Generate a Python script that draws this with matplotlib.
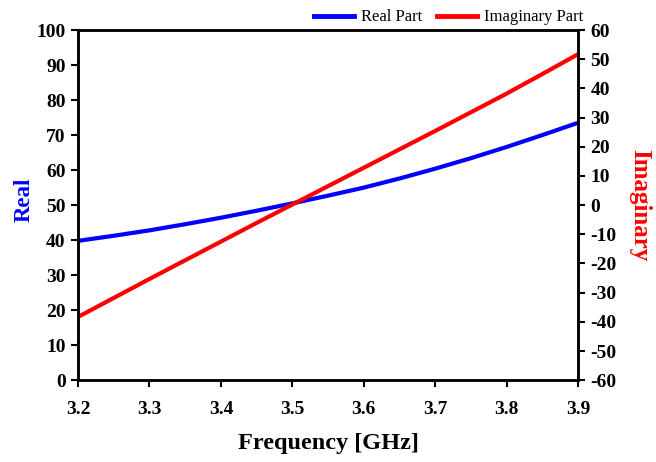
import matplotlib.pyplot as plt

# values
freq = [3.2, 3.25, 3.3, 3.35, 3.4, 3.45, 3.5, 3.55, 3.6, 3.65, 3.7, 3.75, 3.8, 3.85, 3.9]
real_part = [39.8, 41.25, 42.8, 44.55, 46.4, 48.4, 50.5, 52.7, 55.0, 57.6, 60.4, 63.4, 66.6, 70.0, 73.5]
imag_part = [-38.3, -31.8, -25.3, -18.9, -12.5, -6.1, 0.2, 6.5, 12.8, 19.1, 25.4, 31.8, 38.2, 44.9, 51.7]

x_ticks = [3.2, 3.3, 3.4, 3.5, 3.6, 3.7, 3.8, 3.9]
left_ticks = list(range(0, 101, 10))
right_ticks = list(range(-60, 61, 10))

plt.rcParams['font.family'] = ['Liberation Serif', 'DejaVu Serif']
plt.rcParams['font.weight'] = 'bold'
plt.rcParams['axes.unicode_minus'] = False

fig = plt.figure(figsize=(6.56, 4.62), dpi=100)
ax = fig.add_axes([0.119, 0.177, 0.762, 0.758])
ax2 = ax.twinx()

l1, = ax.plot(freq, real_part, color='blue', lw=3, label='Real Part')
l2, = ax2.plot(freq, imag_part, color='red', lw=3, label='Imaginary Part')

ax.set_xlim(3.2, 3.9)
ax.set_ylim(0, 100)
ax2.set_ylim(-60, 60)
ax.set_xticks(x_ticks)
ax.set_xticklabels([f'{v:.1f}' for v in x_ticks])
ax.set_yticks(left_ticks)
ax2.set_yticks(right_ticks)

for a in (ax, ax2):
    for s in a.spines.values():
        s.set_linewidth(1.8)
    a.tick_params(direction='out', length=5, width=1.5, labelsize=14, pad=4)
    for lab in a.get_xticklabels() + a.get_yticklabels():
        lab.set_fontweight('bold')
ax.tick_params(axis='x', pad=10)

ax.set_xlabel('Frequency [GHz]', fontsize=17.5, fontweight='bold', labelpad=11)
ax.set_ylabel('Real', fontsize=16.5, fontweight='bold', color='blue')
ax.yaxis.set_label_coords(-0.087, 0.515)
ax2.set_ylabel('Imaginary', fontsize=18, fontweight='bold', color='red',
               rotation=270, labelpad=25)

leg = ax.legend(handles=[l1, l2], loc='lower right', bbox_to_anchor=(1.024, 0.994),
                ncol=2, frameon=False, borderaxespad=0, handlelength=2.4,
                columnspacing=0.85, handletextpad=0.45,
                prop={'family': 'Liberation Serif', 'weight': 'normal', 'size': 12})
for h in leg.legend_handles:
    h.set_linewidth(3.5)

fig.savefig('out.png', dpi=100)
